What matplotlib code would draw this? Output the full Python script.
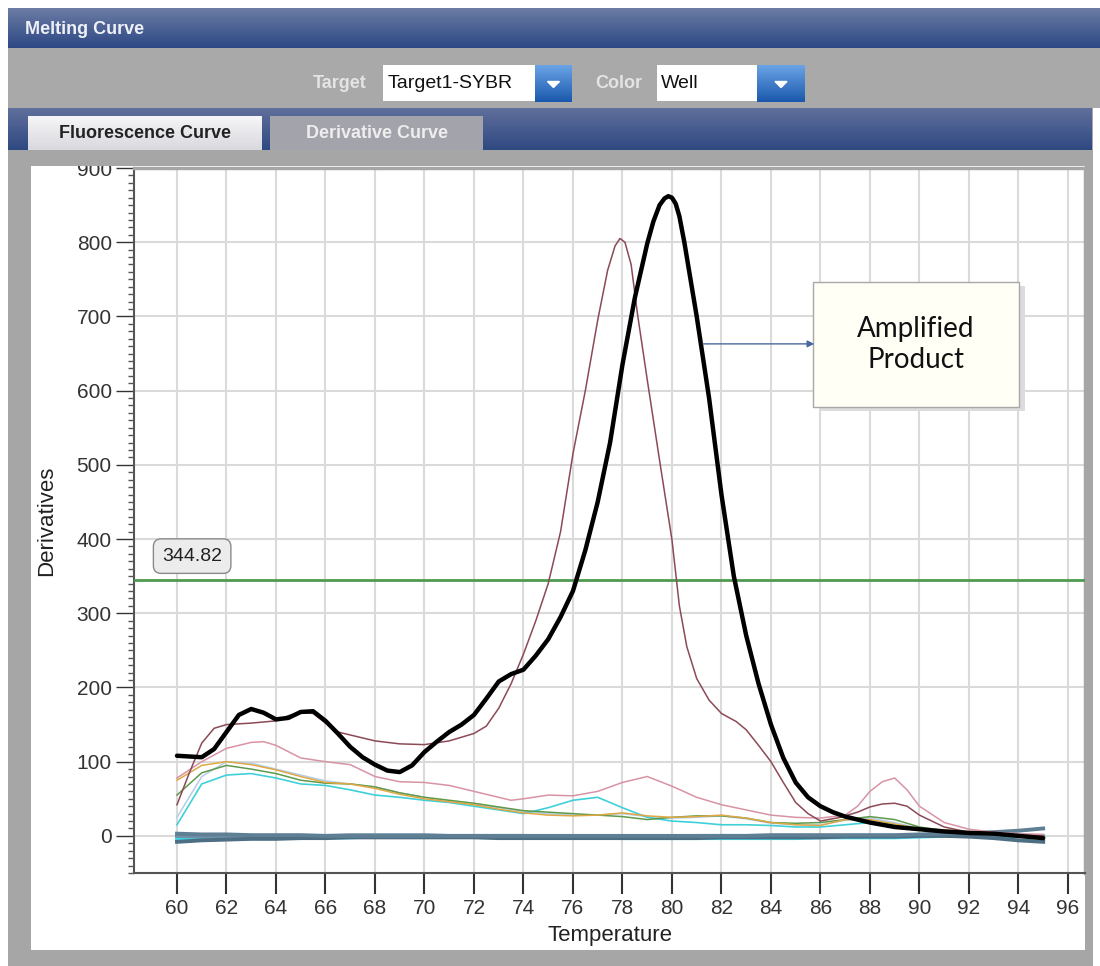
import numpy as np
import matplotlib
matplotlib.use("Agg")
from matplotlib import pyplot as plt
from matplotlib.colors import to_rgb
from matplotlib.patches import Rectangle, Polygon
from matplotlib.ticker import MultipleLocator

plt.rcParams["font.family"] = ["Liberation Sans", "DejaVu Sans"]

# ---- data (temperature in C, derivative) ----
t_black = [60, 60.5, 61, 61.5, 62, 62.5, 63, 63.5, 64, 64.5,
           65, 65.5, 66, 66.5, 67, 67.5, 68, 68.5, 69, 69.5,
           70, 70.5, 71, 71.5, 72, 72.5, 73, 73.5, 74, 74.5,
           75, 75.5, 76, 76.5, 77, 77.5, 78, 78.5, 79, 79.25,
           79.5, 79.7, 79.85, 80, 80.15, 80.3, 80.5, 81, 81.5, 82,
           82.5, 83, 83.5, 84, 84.5, 85, 85.5, 86, 86.5, 87,
           88, 89, 90, 91, 92, 93, 94, 95]
d_black = [108, 107, 106, 117, 140, 163, 171, 166, 157, 159,
           167, 168, 155, 138, 120, 106, 96, 88, 86, 95,
           113, 127, 140, 150, 163, 185, 208, 218, 224, 243,
           265, 295, 330, 385, 450, 530, 635, 725, 798, 828,
           850, 859, 862, 860, 852, 835, 800, 700, 590, 460,
           350, 270, 205, 150, 105, 72, 52, 40, 32, 26,
           18, 12, 9, 6, 4, 3, 0, -3]

t_mauve = [60, 60.5, 61, 61.5, 62, 63, 64, 64.5, 65, 65.5,
           66, 66.5, 67, 68, 69, 70, 71, 72, 72.5, 73,
           73.5, 74, 74.5, 75, 75.5, 76, 76.5, 77, 77.4, 77.7,
           77.9, 78.1, 78.35, 78.6, 79, 79.5, 80, 80.3, 80.6, 81,
           81.5, 82, 82.6, 83, 83.5, 84, 84.5, 85, 85.5, 86,
           86.8, 87.5, 88, 88.5, 89, 89.5, 90, 91, 92, 93,
           94, 95]
d_mauve = [42, 85, 125, 145, 150, 152, 155, 162, 166, 165,
           152, 140, 136, 128, 124, 123, 128, 138, 148, 172,
           205, 245, 290, 340, 410, 515, 600, 695, 762, 795,
           805, 800, 770, 705, 615, 506, 399, 310, 255, 212,
           183, 165, 154, 143, 122, 100, 72, 45, 30, 20,
           25, 32, 39, 43, 44, 40, 28, 12, 5, 3,
           1, 0]

t_pink = [60, 61, 62, 63, 63.5, 64, 65, 66, 67, 68,
          69, 70, 71, 72, 73, 73.5, 74, 75, 76, 77,
          78, 79, 80, 81, 82, 83, 84, 85, 86, 87,
          87.5, 88, 88.5, 89, 89.5, 90, 91, 92, 93, 94, 95]
d_pink = [78, 100, 118, 126, 127, 122, 105, 100, 96, 80,
          73, 72, 68, 60, 52, 48, 50, 55, 54, 60,
          72, 80, 67, 52, 42, 35, 28, 25, 24, 28,
          40, 60, 73, 78, 62, 40, 18, 9, 5, 3, 2]

temps = [60, 61, 62, 63, 64, 65, 66, 67, 68, 69,
         70, 71, 72, 73, 74, 75, 76, 77, 78, 79,
         80, 81, 82, 83, 84, 85, 86, 87, 88, 89,
         90, 91, 92, 93, 94, 95]
d_orange = [75, 95, 100, 96, 89, 80, 72, 70, 64, 56,
            50, 46, 42, 36, 31, 28, 27, 28, 31, 27,
            25, 26, 28, 24, 18, 15, 14, 22, 22, 16,
            10, 8, 6, 4, 2, 1]
d_green = [55, 85, 95, 90, 84, 75, 71, 70, 66, 58,
           52, 48, 44, 39, 34, 32, 30, 28, 26, 22,
           25, 27, 27, 24, 18, 17, 18, 22, 26, 22,
           12, 7, 4, 2, 0, 0]
d_cyan = [15, 70, 82, 84, 78, 70, 68, 62, 55, 52,
          48, 45, 40, 35, 30, 38, 48, 52, 38, 25,
          20, 18, 15, 15, 14, 12, 12, 15, 18, 15,
          8, 5, 3, 2, 0, -2]
d_paleblue = [25, 80, 100, 98, 90, 82, 74, 70, 66, 58,
              52, 47, 43, 38, 33, 30, 28, 28, 30, 26,
              24, 25, 27, 23, 17, 15, 15, 21, 24, 18,
              10, 7, 5, 3, 1, 0]
# near-zero wells (no amplification)
base_a = [3, 2, 2, 1, 1, 1, 0, 0, 0, 0,
          0, 0, 0, 0, 0, 0, 0, 0, 0, 0,
          0, 0, 0, 0, 1, 1, 1, 1, 1, 1,
          2, 3, 4, 5, 7, 10]
base_b = [-8, -6, -5, -4, -4, -3, -3, -2, -2, -2,
          -2, -2, -2, -3, -3, -3, -3, -3, -3, -3,
          -3, -3, -2, -2, -2, -2, -2, -1, -1, -1,
          0, 0, -1, -3, -6, -8]
base_c = [0, -1, -1, -1, 0, 0, 0, 1, 1, 1,
          1, 0, 0, 0, 0, -1, -1, -1, -1, -1,
          -1, 0, 0, 0, 0, 0, 0, 0, 0, 0,
          1, 1, 2, 1, 0, -2]
base_cyan = [-3, -3, -3, -3, -3, -2, -2, -2, -1, -1,
             -1, -1, -1, -2, -2, -2, -2, -2, -3, -3,
             -3, -3, -3, -3, -3, -3, -2, -2, -2, -2,
             -1, 0, 0, 0, 0, 0]

threshold = 344.82
x_ticks = list(range(60, 97, 2))
y_ticks = list(range(0, 901, 100))

W, H = 1100, 966
fig = plt.figure(figsize=(11, 9.66), dpi=100)
fig.patch.set_facecolor("white")

# ---- window chrome drawn in pixel coordinates ----
bg = fig.add_axes([0, 0, 1, 1])
bg.axis("off")
z = [1]


def nextz():
    z[0] += 1
    return z[0]


def box(x0, y0, x1, y1, color):
    bg.add_patch(Rectangle((x0, y0), x1 - x0, y1 - y0, facecolor=color,
                           edgecolor="none", zorder=nextz()))


def grad(x0, y0, x1, y1, top, bottom):
    c0, c1 = np.array(to_rgb(top)), np.array(to_rgb(bottom))
    t = np.linspace(0, 1, 64)[:, None]
    img = (c0 * (1 - t) + c1 * t)[:, None, :]
    bg.imshow(img, extent=(x0, x1, y1, y0), aspect="auto",
              interpolation="bilinear", zorder=nextz())


def arrow_btn(x0, y0, x1, y1):
    grad(x0, y0, x1, y1, "#6aa4e6", "#1a58ac")
    cx, cy = (x0 + x1) / 2, (y0 + y1) / 2
    bg.add_patch(Polygon([(cx - 6, cy - 2), (cx + 6, cy - 2), (cx, cy + 4)],
                         color="white", zorder=nextz()))


box(8, 48, 1093, 966, "#a6a6a6")
grad(8, 8, 1100, 48, "#6c7ca4", "#2c4884")
box(8, 48, 1100, 108, "#a9a9a9")
grad(8, 108, 1092, 150, "#606f9c", "#2e4981")
grad(28, 116, 262, 150, "#f6f6f8", "#d8d8de")
box(270, 116, 483, 150, "#a3a3ab")
box(8, 150, 1093, 166, "#a6a6a6")
box(31, 166, 1085, 950, "white")
box(383, 65, 535, 101, "white")
box(657, 65, 757, 101, "white")
arrow_btn(535, 65, 572, 102)
arrow_btn(757, 65, 805, 102)

tz = nextz()
bg.text(25, 29, "Melting Curve", color="#eef0f6", fontsize=13, fontweight="bold",
        va="center", zorder=tz)
bg.text(313, 83, "Target", color="#e4e4e4", fontsize=13, fontweight="bold", va="center", zorder=tz)
bg.text(388, 83, "Target1-SYBR", color="#111111", fontsize=14, va="center", zorder=tz)
bg.text(595, 83, "Color", color="#e4e4e4", fontsize=13, fontweight="bold", va="center", zorder=tz)
bg.text(661, 83, "Well", color="#111111", fontsize=14, va="center", zorder=tz)
bg.text(145, 134, "Fluorescence Curve", color="#222222", fontsize=13, fontweight="bold",
        ha="center", va="center", zorder=tz)
bg.text(377, 134, "Derivative Curve", color="#eeeeee", fontsize=13, fontweight="bold",
        ha="center", va="center", zorder=tz)
bg.set_xlim(0, W)
bg.set_ylim(H, 0)

# ---- the chart ----
ax = fig.add_axes([134 / W, (H - 873) / H, 951 / W, 705 / H], zorder=1)
ax.set_facecolor("white")

for base, col in [(base_cyan, "#3fd6e6"), (base_c, "#7090a8"), (base_b, "#4e6e84"), (base_a, "#5f7f95")]:
    ax.plot(temps, base, color=col, lw=2.8, zorder=2)
ax.plot(temps, d_paleblue, color="#b4cde8", lw=1.1, zorder=3)
ax.plot(temps, d_cyan, color="#3fd0d8", lw=1.2, zorder=3)
ax.plot(temps, d_green, color="#5e9a4a", lw=1.1, zorder=3)
ax.plot(temps, d_orange, color="#e0a844", lw=1.1, zorder=3)
ax.plot(t_pink, d_pink, color="#d893a4", lw=1.1, zorder=3)
ax.axhline(threshold, color="#4f9a4f", lw=2, zorder=4)
ax.plot(t_mauve, d_mauve, color="#8b4a56", lw=1.1, zorder=5)
ax.plot(t_black, d_black, color="black", lw=3.2, zorder=6,
        solid_capstyle="round", solid_joinstyle="round")

ax.text(59.4, 377, f"{threshold:.2f}", fontsize=14, color="#222222", va="center", zorder=7,
        bbox=dict(boxstyle="round,pad=0.45,rounding_size=0.4", fc="#ececec", ec="#8a8a8a", lw=1))

# callout box
ax.add_patch(Rectangle((85.95, 573), 8.3, 168, facecolor="#dcdcdc", edgecolor="none", zorder=7))
ax.add_patch(Rectangle((85.7, 578), 8.32, 168, facecolor="#fffff6", edgecolor="#a8a8a8",
                       lw=1, zorder=8))
ax.text(89.86, 662, "Amplified\nProduct", fontsize=20, family="Lato", color="#111111",
        ha="center", va="center", linespacing=1.25, zorder=9)
ax.annotate("", xy=(85.75, 663), xytext=(81.25, 663), zorder=9,
            arrowprops=dict(arrowstyle="-|>", color="#4a68a0", lw=1, mutation_scale=10,
                            shrinkA=0, shrinkB=0))

ax.set_xlim(58.263, 96.69)
ax.set_ylim(-50, 900)
ax.set_xticks(x_ticks)
ax.set_yticks(y_ticks)
ax.yaxis.set_minor_locator(MultipleLocator(10))
ax.grid(True, which="major", color="#dadada", lw=1.5)
ax.set_axisbelow(True)
ax.tick_params(axis="x", length=15, width=1.5, pad=3.5, labelsize=15, colors="#333333")
ax.tick_params(axis="y", which="major", length=13, width=1, pad=3, labelsize=15, colors="#333333")
ax.tick_params(axis="y", which="minor", length=4, width=1, colors="#555555")
for side in ("left", "bottom"):
    ax.spines[side].set_color("#555555")
    ax.spines[side].set_linewidth(1.5)
for side in ("top", "right"):
    ax.spines[side].set_color("#a6a6a6")
    ax.spines[side].set_linewidth(2.5)

ax.set_xlabel("Temperature", fontsize=16, color="#222222")
ax.set_ylabel("Derivatives", fontsize=16, color="#222222")
ax.xaxis.set_label_coords(0.5, -0.074)
ax.yaxis.set_label_coords(-0.081, 0.5)

# gray strip that clips the top of the 900 label, like the original window
band = fig.add_axes([31 / W, (H - 166) / H, (1085 - 31) / W, 16 / H], zorder=2)
band.set_facecolor("#a6a6a6")
band.set_xticks([])
band.set_yticks([])
for s in band.spines.values():
    s.set_visible(False)

fig.savefig("out.png", dpi=100)
